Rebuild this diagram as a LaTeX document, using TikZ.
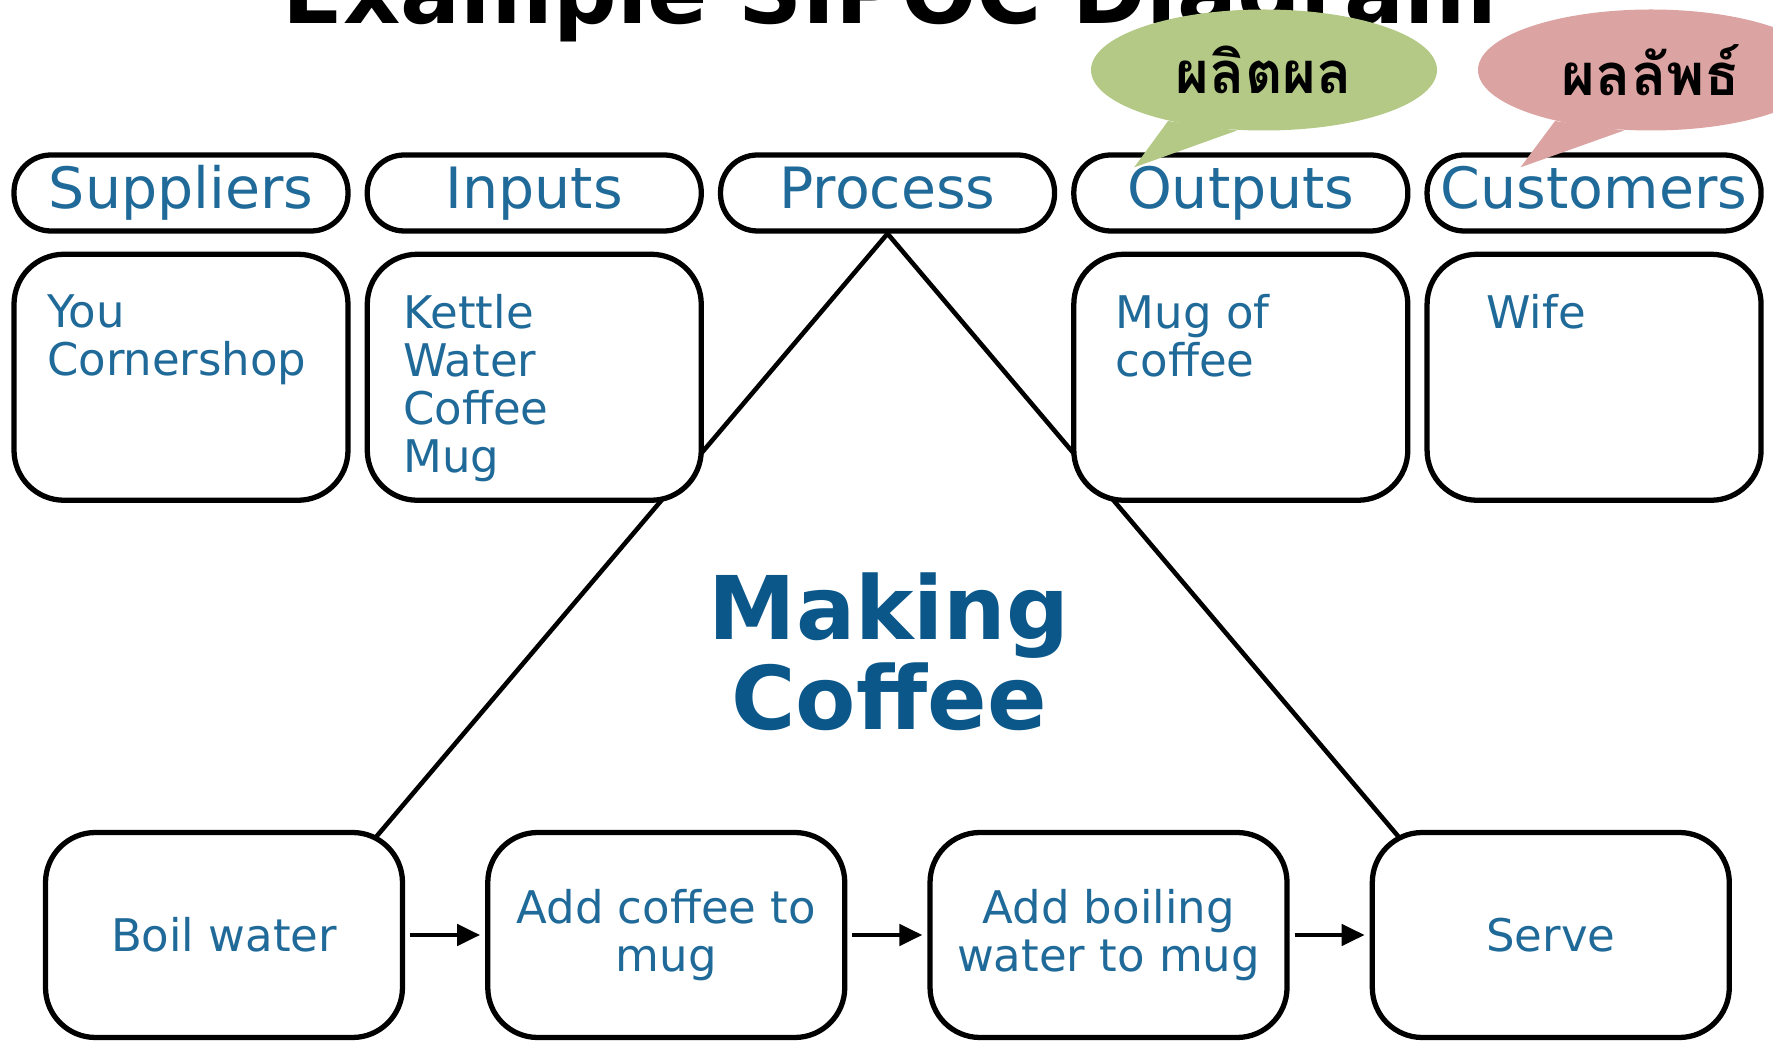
\documentclass[tikz,border=0pt]{standalone}
\usepackage{fontspec}
\setmainfont{DejaVu Sans}
\newfontfamily\thaifont[Script=Thai]{Loma}
\usepackage{xcolor}
\usepackage{tikz}
\usetikzlibrary{positioning, arrows.meta, calc, shapes.geometric, backgrounds}
\definecolor{sipocblue}{HTML}{1F6A99}
\definecolor{coffeeblue}{HTML}{0B5789}
\definecolor{outgreen}{HTML}{B3C985}
\definecolor{custpink}{HTML}{DBA3A2}

\begin{document}
\begin{tikzpicture}[x=0.1mm, y=-0.1mm,
    head/.style={draw, line width=1.5pt, fill=white, rounded corners=3.7mm,
      minimum width=33.4mm, minimum height=7.6mm, inner xsep=0.5mm,
      inner ysep=0pt, text height=4.4mm, text depth=1.2mm,
      text=sipocblue, font=\fontsize{16.2}{19}\selectfont},
    listbox/.style={draw, line width=1.5pt, fill=white, rounded corners=5mm,
      minimum width=33.4mm, minimum height=24.6mm},
    listtext/.style={anchor=north west, inner sep=0pt, align=left,
      text=sipocblue, font=\fontsize{12.8}{13.7}\selectfont},
    stepbox/.style={draw, line width=1.5pt, fill=white, rounded corners=5mm,
      minimum width=35.7mm, minimum height=20.5mm, align=center,
      text=sipocblue, font=\fontsize{12.8}{13.8}\selectfont},
    flow/.style={-{Triangle[length=2.3mm, width=2.1mm]}, line width=1.3pt,
      shorten <=0.5mm, shorten >=0.5mm},
    bubble/.style={ellipse, minimum width=34.6mm, minimum height=12.1mm,
      inner sep=0pt, font=\thaifont\bfseries\fontsize{16.5}{18}\selectfont}]
  \useasboundingbox (0,0) rectangle (1773,1042);

  % title, cut off by the top edge
  \node[anchor=base, font=\bfseries\fontsize{25.3}{30}\selectfont] (title)
    at (890,24) {Example SIPOC Diagram};

  % SIPOC headers
  \node[head] (suppliers) at (181,193) {Suppliers};
  \node[head, right=1.4mm of suppliers] (inputs) {Inputs};
  \node[head, right=1.4mm of inputs] (process) {Process};
  \node[head, right=1.4mm of process] (outputs) {Outputs};
  \node[head, right=1.4mm of outputs] (customers) {Customers};

  % lists under the headers
  \node[listbox, below=1.8mm of suppliers] (supbox) {};
  \node[listbox, below=1.8mm of inputs] (inbox) {};
  \node[listbox, below=1.8mm of outputs] (outbox) {};
  \node[listbox, below=1.8mm of customers] (custbox) {};
  \node[listtext] (suptext) at ($(supbox.north west)+(35,42)$) {You\\Cornershop};
  \node[listtext] (intext) at ($(inbox.north west)+(38,42)$) {Kettle\\Water\\Coffee\\Mug};
  \node[listtext] (outtext) at ($(outbox.north west)+(44,42)$) {Mug of\\coffee};
  \node[listtext] (custtext) at ($(custbox.north west)+(61,42)$) {Wife};

  % process steps
  \node[stepbox] (boil) at (224,935) {Boil water};
  \node[stepbox, right=8mm of boil] (addcoffee) {Add coffee to\\mug};
  \node[stepbox, right=8mm of addcoffee] (addwater) {Add boiling\\water to mug};
  \node[stepbox, right=8mm of addwater] (serve) {Serve};
  \foreach \a/\b in {boil/addcoffee, addcoffee/addwater, addwater/serve}
    \draw[flow] (\a) -- (\b);

  % triangle behind the boxes
  \coordinate (leftfoot) at ($(boil.north east)+(-40,20)$);
  \coordinate (rightfoot) at ($(serve.north west)+(40,20)$);
  \begin{scope}[on background layer]
    \draw[line width=1.3pt] (leftfoot) -- (process.south) -- (rightfoot);
  \end{scope}

  \node[align=center, text=coffeeblue,
        font=\bfseries\fontsize{25}{25.6}\selectfont] (making) at (889,652)
    {Making\\Coffee};

  % Thai callouts
  \coordinate (outtip) at ($(outputs.north west)+(63,15)$);
  \coordinate (custtip) at ($(customers.north west)+(96,15)$);
  \node[bubble, fill=outgreen] (produce) at (1264,70) {ผลิตผล};
  \fill[outgreen] (produce.208) -- (outtip) -- (produce.246) -- cycle;
  \node[bubble, fill=custpink] (result) at (1651,70) {ผลลัพธ์};
  \fill[custpink] (result.208) -- (custtip) -- (result.246) -- cycle;
\end{tikzpicture}
\end{document}
